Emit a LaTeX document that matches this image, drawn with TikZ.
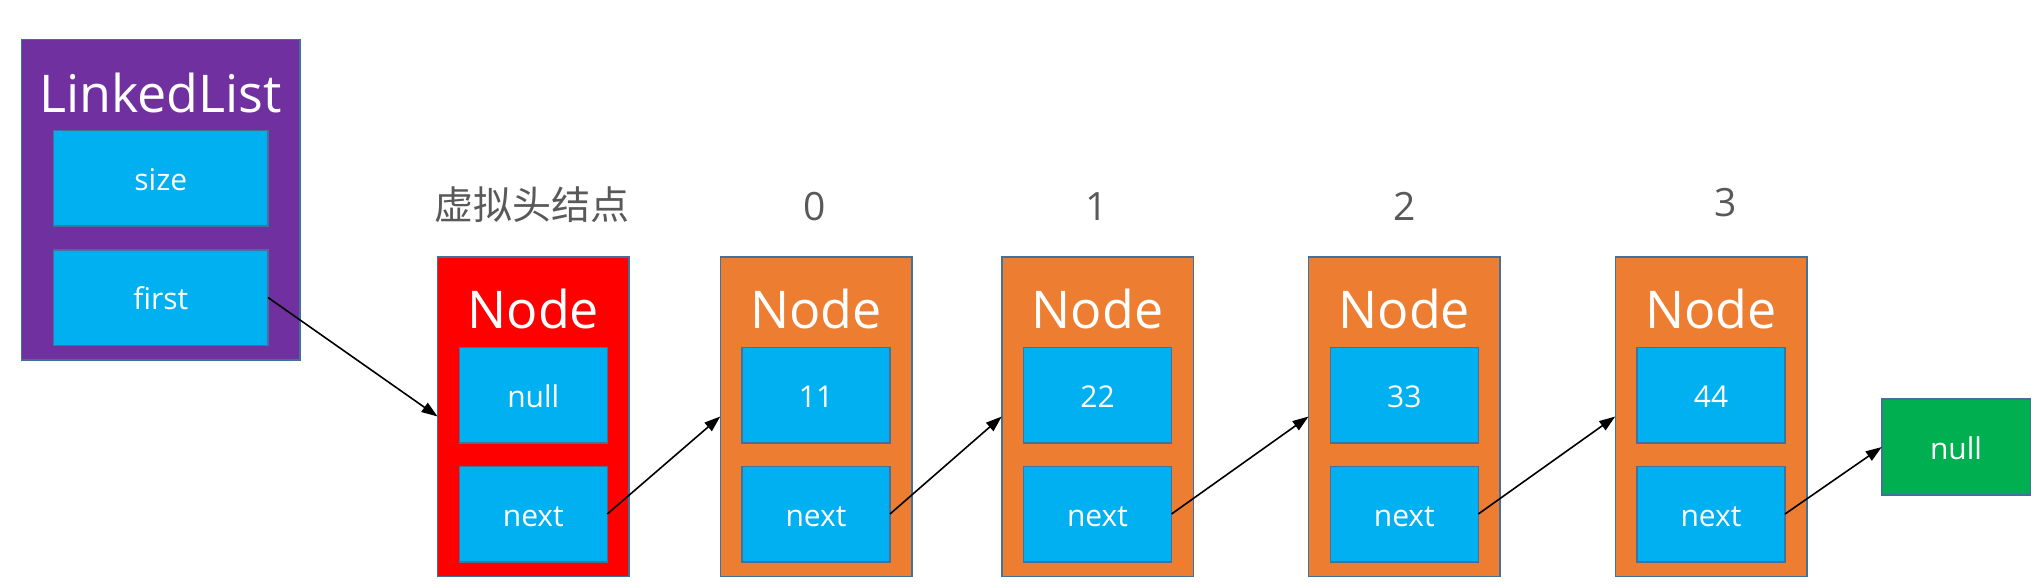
\documentclass[tikz,border=0pt]{standalone}
\usepackage{fontspec}
\setmainfont{Open Sans}
\newfontfamily\cjkfont{Noto Sans CJK SC}
\usetikzlibrary{arrows.meta}
\definecolor{llpurple}{HTML}{7030A0}
\definecolor{fieldblue}{HTML}{00B0F0}
\definecolor{headred}{HTML}{FF0000}
\definecolor{nodeorange}{HTML}{ED7D31}
\definecolor{nullgreen}{HTML}{00B050}
\definecolor{edgeblue}{HTML}{41719C}
\definecolor{labelgray}{HTML}{595959}
\tikzset{
  box/.style={draw=edgeblue, line width=1.5pt, inner sep=0pt, outer sep=0pt},
  container/.style={box, minimum width=191.5pt, minimum height=319.5pt},
  field/.style={box, fill=fieldblue, minimum width=148pt, minimum height=95.5pt,
    text=white, font=\fontsize{30}{36}\selectfont, text height=24pt, text depth=0pt},
  wide field/.style={field, minimum width=214.4pt},
  title/.style={text=white, font=\fontsize{52}{60}\selectfont, inner sep=0pt, anchor=base},
  idx/.style={text=labelgray, font=\fontsize{39}{46}\selectfont, inner sep=0pt, anchor=base},
  link/.style={draw=black, line width=1.6pt, -{Triangle[length=16pt,width=11pt]}},
}
\begin{document}
\begin{tikzpicture}[x=1pt, y=-1pt]
\useasboundingbox (0,0) rectangle (2040,588);

% LinkedList object
\node[box, fill=llpurple, minimum width=278.6pt, minimum height=320.6pt] (ll) at (160.7,199.7) {};
\node[title] (lltitle) at (160.7,112.5) {LinkedList};
\node[wide field] (size) at (160.8,178.5) {size};
\node[wide field] (first) at (160.8,297.5) {first};

% Nodes
\foreach \nm/\cx/\col/\val/\lab/\lx/\ly in {
  head/533.3/headred/null/{\cjkfont 虚拟头结点}/532/220,
  n0/816/nodeorange/11/0/815/220.5,
  n1/1097.5/nodeorange/22/1/1097/220.5,
  n2/1404.3/nodeorange/33/2/1405/220.5,
  n3/1711/nodeorange/44/3/1726/217}{
  \node[container, fill=\col] (\nm) at (\cx,416.5) {};
  \node[title] (\nm title) at (\cx,328) {Node};
  \node[field] (\nm val) at (\cx,395) {\val};
  \node[field] (\nm next) at (\cx,514) {next};
  \node[idx] (\nm lab) at (\lx,\ly) {\lab};
}

% terminal null
\node[field, fill=nullgreen, minimum width=148.5pt, minimum height=96pt] (nullg) at (1956,447) {null};

% links
\draw[link] (first.east) -- (head.west);
\draw[link] (headnext.east) -- (n0.west);
\draw[link] (n0next.east) -- (n1.west);
\draw[link] (n1next.east) -- (n2.west);
\draw[link] (n2next.east) -- (n3.west);
\draw[link] (n3next.east) -- (nullg.west);
\end{tikzpicture}
\end{document}
